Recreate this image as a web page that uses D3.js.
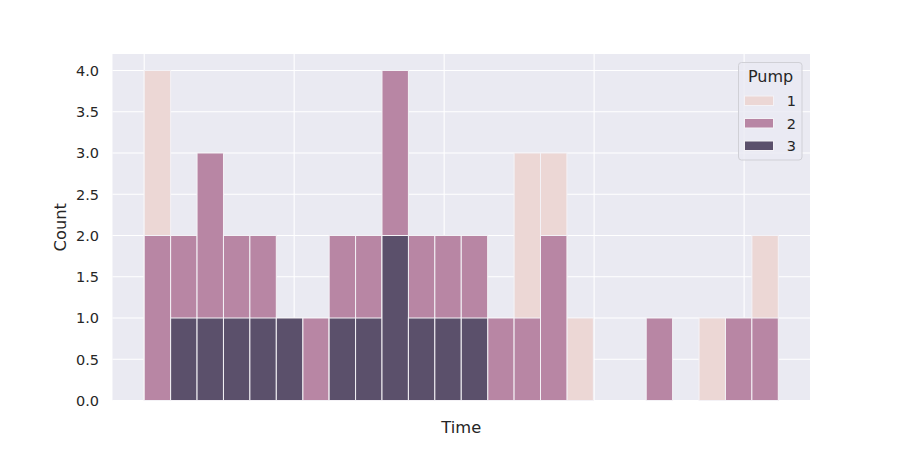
<!DOCTYPE html>
<html>
<head>
<meta charset="utf-8">
<script src="https://cdn.jsdelivr.net/npm/d3@7"></script>
<style>
  body { margin: 0; background: #fff; }
  text { font-family: "DejaVu Sans", sans-serif; fill: #262626; }
</style>
</head>
<body>
<svg id="chart"></svg>
<script>
// histogram counts per bin, one array per pump (layered, not stacked)
const pumps = ["1", "2", "3"];
const pump1 = [4,0,0,0,0,0,0,0,0,0,0,0,0,0,3,3,1,0,0,0,0,1,0,2];
const pump2 = [2,2,3,2,2,0,1,2,2,4,2,2,2,1,1,2,0,0,0,1,0,0,1,1];
const pump3 = [0,1,1,1,1,1,0,1,1,2,1,1,1,0,0,0,0,0,0,0,0,0,0,0];
// colours as they show over the grey panel
const colors = ["#ecd7d5", "#b886a4", "#5b506b"];
// time in days from first reading; last reading ends at timeEnd
const timeEnd = 4.228;
const timeTicks = [0, 1, 2, 3, 4];
const yTicks = [0, 0.5, 1, 1.5, 2, 2.5, 3, 3.5, 4];

const W = 900, H = 450;
const mLeft = 112.5, mRight = 810, mTop = 54, mBottom = 400.5;

const svg = d3.select("#chart")
  .attr("width", W)
  .attr("height", H);

const nBins = pump1.length;
const binW = timeEnd / nBins;
const pad = timeEnd * 0.05;

const x = d3.scaleLinear()
  .domain([-pad, timeEnd + pad])
  .range([mLeft, mRight]);
const y = d3.scaleLinear()
  .domain([0, 4.2])
  .range([mBottom, mTop]);

svg.append("rect")
  .attr("x", mLeft).attr("y", mTop)
  .attr("width", mRight - mLeft).attr("height", mBottom - mTop)
  .style("fill", "#eaeaf2");

// grid
svg.append("g").selectAll("line")
  .data(yTicks)
  .enter()
  .append("line")
  .attr("x1", mLeft).attr("x2", mRight)
  .attr("y1", d => y(d)).attr("y2", d => y(d))
  .style("stroke", "#fff").style("stroke-width", 1.1);
svg.append("g").selectAll("line")
  .data(timeTicks)
  .enter()
  .append("line")
  .attr("x1", d => x(d)).attr("x2", d => x(d))
  .attr("y1", mTop).attr("y2", mBottom)
  .style("stroke", "#fff").style("stroke-width", 1.1);

// bars
const series = [pump1, pump2, pump3];
series.forEach(function (counts, k) {
  const bins = counts.map((c, i) => ({x0: i * binW, x1: (i + 1) * binW, c: c}))
    .filter(d => d.c > 0);
  svg.append("g").selectAll("rect")
    .data(bins)
    .enter()
    .append("rect")
    .attr("x", d => x(d.x0))
    .attr("width", d => x(d.x1) - x(d.x0))
    .attr("y", d => y(d.c))
    .attr("height", d => y(0) - y(d.c))
    .style("fill", colors[k])
    .style("stroke", "#f4f2f6")
    .style("stroke-width", 1);
});

// y tick labels
svg.append("g").selectAll("text")
  .data(yTicks)
  .enter()
  .append("text")
  .attr("x", mLeft - 13.5)
  .attr("y", d => y(d) + 5.3)
  .attr("text-anchor", "end")
  .style("font-size", "14.5px")
  .text(d => d.toFixed(1));

svg.append("text")
  .attr("x", (mLeft + mRight) / 2)
  .attr("y", 433)
  .attr("text-anchor", "middle")
  .style("font-size", "16.3px")
  .text("Time");

svg.append("text")
  .attr("transform", "translate(66," + ((mTop + mBottom) / 2) + ") rotate(-90)")
  .attr("text-anchor", "middle")
  .style("font-size", "16.3px")
  .text("Count");

// legend
const lg = svg.append("g").attr("transform", "translate(738.5,62.5)");
lg.append("rect")
  .attr("width", 63.5).attr("height", 97.5)
  .attr("rx", 3)
  .style("fill", "#eaeaf2").style("fill-opacity", 0.8)
  .style("stroke", "#d0d0d6").style("stroke-width", 1);
lg.append("text")
  .attr("x", 32).attr("y", 19.3)
  .attr("text-anchor", "middle")
  .style("font-size", "16px")
  .text("Pump");
const items = lg.selectAll("g.item")
  .data(pumps)
  .enter()
  .append("g")
  .attr("class", "item")
  .attr("transform", (d, i) => "translate(6," + (33.5 + i * 22.5) + ")");
items.append("rect")
  .attr("width", 29).attr("height", 9.5)
  .style("fill", (d, i) => colors[i])
  .style("stroke", "#f4f2f6");
items.append("text")
  .attr("x", 51.5).attr("y", 10)
  .attr("text-anchor", "end")
  .style("font-size", "14.5px")
  .text(d => d);
</script>
</body>
</html>
